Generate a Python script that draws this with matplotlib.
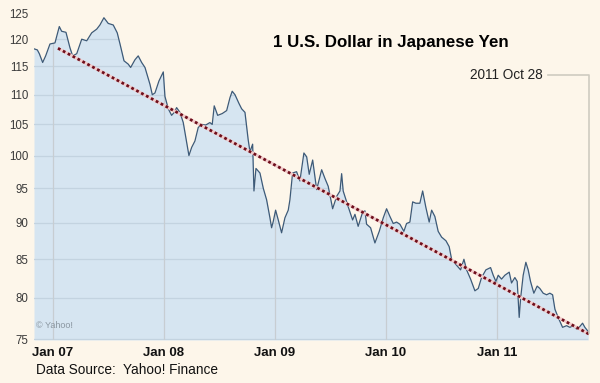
import matplotlib
matplotlib.use("Agg")
import matplotlib.pyplot as plt
from matplotlib.lines import Line2D
import numpy as np

# decimal-year dates and USD/JPY rates
years = [2006.829, 2006.859, 2006.877, 2006.907, 2006.934, 2006.973, 2007.018, 2007.057,
         2007.078, 2007.117, 2007.153, 2007.177, 2007.214, 2007.259, 2007.304, 2007.349,
         2007.394, 2007.423, 2007.459, 2007.498, 2007.543, 2007.579, 2007.604, 2007.640,
         2007.678, 2007.700, 2007.739, 2007.768, 2007.799, 2007.829, 2007.874, 2007.895,
         2007.919, 2007.955, 2007.994, 2008.009, 2008.039, 2008.069, 2008.093, 2008.114,
         2008.144, 2008.174, 2008.205, 2008.225, 2008.250, 2008.279, 2008.309, 2008.340,
         2008.376, 2008.414, 2008.435, 2008.453, 2008.484, 2008.525, 2008.565, 2008.595,
         2008.615, 2008.640, 2008.676, 2008.700, 2008.730, 2008.759, 2008.775, 2008.799,
         2008.811, 2008.829, 2008.865, 2008.895, 2008.925, 2008.955, 2008.970, 2008.985,
         2009.006, 2009.030, 2009.060, 2009.090, 2009.120, 2009.135, 2009.159, 2009.195,
         2009.225, 2009.261, 2009.286, 2009.309, 2009.340, 2009.376, 2009.421, 2009.450,
         2009.480, 2009.520, 2009.556, 2009.586, 2009.601, 2009.615, 2009.660, 2009.700,
         2009.721, 2009.750, 2009.790, 2009.811, 2009.826, 2009.862, 2009.901, 2009.940,
         2009.976, 2010.006, 2010.036, 2010.066, 2010.096, 2010.126, 2010.162, 2010.186,
         2010.216, 2010.241, 2010.270, 2010.306, 2010.331, 2010.360, 2010.390, 2010.412,
         2010.441, 2010.471, 2010.502, 2010.541, 2010.570, 2010.592, 2010.637, 2010.673,
         2010.703, 2010.727, 2010.763, 2010.802, 2010.832, 2010.862, 2010.901, 2010.943,
         2010.967, 2010.991, 2011.012, 2011.042, 2011.072, 2011.111, 2011.132, 2011.162,
         2011.183, 2011.201, 2011.214, 2011.237, 2011.261, 2011.282, 2011.303, 2011.333,
         2011.363, 2011.387, 2011.417, 2011.448, 2011.477, 2011.502, 2011.523, 2011.552,
         2011.592, 2011.628, 2011.658, 2011.687, 2011.718, 2011.741, 2011.772, 2011.793,
         2011.823]
yen = [118.2, 118.0, 117.3, 115.7, 116.9, 119.1, 119.3, 122.4,
       121.5, 121.3, 118.4, 116.9, 117.3, 120.0, 119.7, 121.2,
       121.9, 122.7, 124.1, 123.0, 122.7, 121.2, 119.1, 116.0,
       115.4, 114.8, 116.2, 116.9, 115.7, 114.8, 111.8, 110.0,
       110.3, 112.4, 114.0, 109.7, 107.6, 106.5, 107.0, 107.8,
       107.0, 105.3, 102.0, 100.0, 101.3, 102.3, 104.5, 105.0,
       104.9, 105.3, 105.0, 108.1, 106.5, 106.8, 107.3, 109.5,
       110.6, 110.0, 108.5, 107.6, 107.0, 102.5, 100.6, 101.8,
       94.6, 98.0, 97.3, 95.0, 93.3, 90.7, 89.3, 90.2,
       91.8, 90.4, 88.6, 90.7, 91.8, 93.3, 97.3, 97.5,
       96.1, 100.4, 99.8, 97.1, 99.3, 94.8, 97.8, 96.5,
       95.3, 92.0, 93.8, 94.6, 97.2, 94.6, 92.3, 90.4,
       91.2, 89.5, 91.5, 91.7, 89.8, 89.3, 87.2, 88.8,
       90.7, 92.0, 90.9, 89.9, 90.1, 89.8, 88.8, 89.9,
       90.1, 93.0, 92.8, 92.8, 94.6, 92.2, 90.1, 91.8,
       90.9, 88.8, 88.0, 87.5, 86.7, 85.0, 84.2, 83.6,
       85.0, 83.6, 82.4, 80.9, 81.2, 82.6, 83.6, 83.9,
       82.9, 82.1, 82.9, 82.4, 82.9, 83.3, 81.9, 82.6,
       82.1, 77.6, 80.0, 82.9, 84.6, 83.6, 82.1, 80.6,
       81.5, 81.2, 80.6, 80.4, 80.6, 80.4, 78.6, 77.6,
       76.4, 76.6, 76.4, 76.6, 76.2, 76.4, 76.9, 76.4,
       75.9]

trend_years = [2007.045, 2011.83]
trend_yen = [118.3, 75.6]

yticks = [75, 80, 85, 90, 95, 100, 105, 110, 115, 120, 125]
xticks = [2007, 2008, 2009, 2010, 2011]
xlabels = ["Jan 07", "Jan 08", "Jan 09", "Jan 10", "Jan 11"]

BG = "#fdf6ea"
FILL = "#d6e5f1"
LINE = "#3d5a78"
FONT = ["Liberation Sans", "DejaVu Sans"]

fig = plt.figure(figsize=(6.0, 3.83), dpi=100, facecolor=BG)
W, H = 600, 383
left, right, bottom_px, top_px = 34, 589, 340, 3
ax = fig.add_axes([left / W, 1 - bottom_px / H, (right - left) / W, (bottom_px - top_px) / H])
ax.set_facecolor(BG)
ax.set_yscale("log")
ymin, ymax = 74.9, 127.0
ax.set_ylim(ymin, ymax)
ax.set_xlim(2006.829, 2011.83)

fill = ax.fill_between(years, yen, ymin, color=FILL, lw=0, zorder=1)
clip_path = fill.get_paths()[0]

for v in yticks:
    gl = ax.axhline(v, color="#c3d3e0", lw=0.9, zorder=1.5)
    gl.set_clip_path(clip_path, ax.transData)
for v in xticks:
    gl = ax.axvline(v, color="#c7cdd2", lw=0.9, zorder=1.5)
    gl.set_clip_path(clip_path, ax.transData)

ax.plot(years, yen, color=LINE, lw=0.9, zorder=3)

# trend line: pale halo + dark red dots
ax.plot(trend_years, trend_yen, color="#f3cccc", lw=2.2, zorder=4, solid_capstyle="butt")
ax.plot(trend_years, trend_yen, color="#6e0f1c", lw=2.0, zorder=5,
        linestyle=(0, (1.0, 1.0)), dash_capstyle="butt")

for s in ax.spines.values():
    s.set_visible(False)
ax.set_yticks(yticks)
ax.set_yticklabels([str(v) for v in yticks], fontsize=8.3, color="#3a3a3a", family=FONT)
ax.yaxis.set_minor_locator(matplotlib.ticker.NullLocator())
ax.set_xticks(xticks)
ax.set_xticklabels(xlabels, fontsize=9.5, fontweight="bold", color="#111111", family=FONT)
ax.tick_params(axis="both", length=0)
ax.tick_params(axis="y", pad=4)
ax.tick_params(axis="x", pad=5)

ax.text(0.004, 0.03, "© Yahoo!", transform=ax.transAxes, fontsize=6.5, color="#8a96a0",
        family=FONT, ha="left", va="bottom", zorder=6)

fig.text(391 / W, 1 - 42 / H, "1 U.S. Dollar in Japanese Yen", fontsize=12.2,
         fontweight="bold", ha="center", va="center", family=FONT, color="#000000")
fig.text(543 / W, 1 - 75 / H, "2011 Oct 28", fontsize=9.8, ha="right", va="center",
         family=FONT, color="#222222")
fig.add_artist(Line2D([548 / W, 589 / W, 589 / W], [1 - 75 / H, 1 - 75 / H, 1 - 333 / H],
                      color="#cfcbc0", lw=1.2, transform=fig.transFigure))
fig.text(36 / W, 1 - 370 / H, "Data Source:  Yahoo! Finance", fontsize=9.8, ha="left",
         va="center", family=FONT, color="#111111")

fig.savefig("out.png", dpi=100, facecolor=BG)
